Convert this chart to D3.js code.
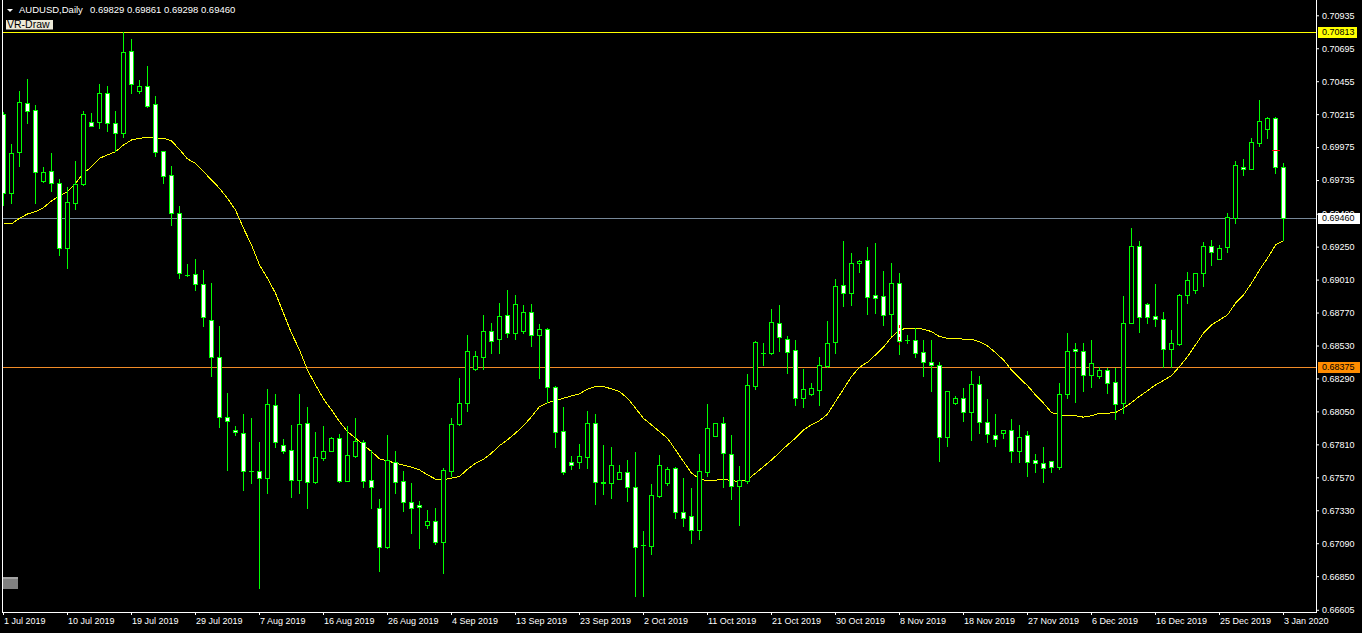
<!DOCTYPE html>
<html><head><meta charset="utf-8">
<script src="https://cdn.jsdelivr.net/npm/d3@7"></script>
<style>
html,body{margin:0;padding:0;background:#000;overflow:hidden}
svg{display:block}
text{font-family:"Liberation Sans",Arial,sans-serif}
</style>
</head><body>
<svg id="c" width="1362" height="633"></svg>
<script>
// ---------------- DATA ----------------
const symbolLabel = "AUDUSD,Daily";
const indicatorLabel = "VR-Draw";

const opens = [
0.70214,0.69639,0.69937,0.70294,0.70245,0.69731,0.69803,0.69712,0.69243,0.69570,
0.69706,0.70156,0.70156,0.70367,0.70148,0.70076,0.70675,0.70386,0.70420,0.70287,
0.69947,0.69772,0.69493,0.69047,0.69049,0.68976,0.68714,0.68445,0.68008,0.67913,
0.67892,0.67616,0.67615,0.67564,0.68095,0.67806,0.67768,0.67549,0.67964,0.67539,
0.67714,0.67765,0.67855,0.67546,0.67728,0.67826,0.67549,0.67346,0.67062,0.67685,
0.67542,0.67389,0.67370,0.67219,0.67251,0.67102,0.67619,0.67957,0.68110,0.68358,
0.68449,0.68636,0.68576,0.68753,0.68620,0.68639,0.68773,0.68605,0.68649,0.68226,
0.67906,0.67680,0.67678,0.67721,0.67964,0.67533,0.67525,0.67561,0.67608,0.67498,
0.67077,0.67073,0.67437,0.67532,0.67637,0.67316,0.67287,0.67183,0.67612,0.67874,
0.67964,0.67739,0.67510,0.67546,0.68238,0.68475,0.68474,0.68692,0.68576,0.68496,
0.68151,0.68178,0.68209,0.68384,0.68558,0.68969,0.68915,0.69131,0.69151,0.68896,
0.68889,0.68762,0.68984,0.68572,0.68569,0.68481,0.68408,0.68387,0.67863,0.68114,
0.68146,0.68045,0.68248,0.67972,0.67877,0.67892,0.67913,0.67761,0.67877,0.67695,
0.67673,0.67688,0.67648,0.68175,0.68503,0.68488,0.68318,0.68311,0.68350,0.68263,
0.68114,0.68697,0.69255,0.68831,0.68743,0.68722,0.68503,0.68542,0.68898,0.68935,
0.69056,0.69255,0.69158,0.69246,0.69457,0.69828,0.69814,0.70003,0.70105,0.70185,
0.69829];
const highs = [
0.70233,0.69998,0.70384,0.70469,0.70282,0.69832,0.69930,0.69741,0.69687,0.69874,
0.70238,0.70221,0.70434,0.70420,0.70238,0.70813,0.70762,0.70464,0.70566,0.70347,
0.69950,0.69838,0.69546,0.69124,0.69161,0.69080,0.68986,0.68673,0.68183,0.67945,
0.68030,0.68001,0.67826,0.68214,0.68175,0.67850,0.67952,0.68178,0.68085,0.67901,
0.67947,0.67863,0.67887,0.67945,0.68000,0.67843,0.67770,0.67413,0.67879,0.67763,
0.67617,0.67528,0.67399,0.67333,0.67350,0.67637,0.68001,0.68296,0.68607,0.68493,
0.68753,0.68697,0.68842,0.68935,0.68898,0.68826,0.68833,0.68687,0.68656,0.68236,
0.68083,0.67726,0.67814,0.68054,0.68032,0.67806,0.67792,0.67659,0.67697,0.67755,
0.67180,0.67523,0.67734,0.67648,0.67646,0.67566,0.67493,0.67741,0.68102,0.67964,
0.68010,0.67879,0.67653,0.68323,0.68566,0.68549,0.68797,0.68826,0.68601,0.68571,
0.68359,0.68256,0.68447,0.68709,0.69013,0.69292,0.69202,0.69153,0.69246,0.69275,
0.69073,0.69134,0.69056,0.68607,0.68656,0.68571,0.68571,0.68408,0.68197,0.68165,
0.68219,0.68345,0.68309,0.68141,0.68032,0.67913,0.67994,0.67952,0.67908,0.67741,
0.67790,0.67688,0.68258,0.68622,0.68547,0.68547,0.68571,0.68376,0.68365,0.68365,
0.68891,0.69388,0.69292,0.68838,0.68979,0.68777,0.68644,0.68906,0.69066,0.69056,
0.69286,0.69299,0.69262,0.69498,0.69876,0.69889,0.70044,0.70318,0.70192,0.70196,
0.69861];
const lows = [
0.69554,0.69566,0.69840,0.70148,0.69566,0.69723,0.69658,0.69190,0.69097,0.69525,
0.69699,0.70129,0.70112,0.70092,0.69949,0.70051,0.70367,0.70367,0.70265,0.69913,
0.69714,0.69408,0.69020,0.69037,0.68935,0.68675,0.68311,0.67940,0.67624,0.67879,
0.67474,0.67528,0.66763,0.67455,0.67790,0.67746,0.67430,0.67459,0.67350,0.67528,
0.67697,0.67763,0.67539,0.67544,0.67721,0.67503,0.67350,0.66884,0.67054,0.67459,
0.67321,0.67164,0.67054,0.67204,0.67086,0.66872,0.67583,0.67952,0.68056,0.68352,
0.68360,0.68478,0.68478,0.68595,0.68578,0.68624,0.68529,0.68296,0.68122,0.67794,
0.67593,0.67629,0.67641,0.67641,0.67377,0.67450,0.67421,0.67559,0.67399,0.66707,
0.66702,0.67013,0.67430,0.67515,0.67275,0.67217,0.67095,0.67124,0.67581,0.67874,
0.67503,0.67413,0.67224,0.67532,0.68214,0.68389,0.68469,0.68491,0.68333,0.68098,
0.68085,0.68170,0.68098,0.68372,0.68478,0.68818,0.68826,0.69068,0.68760,0.68769,
0.68680,0.68607,0.68469,0.68551,0.68445,0.68309,0.68200,0.67692,0.67799,0.68105,
0.67983,0.67843,0.67896,0.67830,0.67801,0.67859,0.67678,0.67678,0.67583,0.67612,
0.67539,0.67612,0.67634,0.68151,0.68122,0.68202,0.68231,0.68296,0.68183,0.67994,
0.68042,0.68692,0.68631,0.68697,0.68675,0.68376,0.68376,0.68534,0.68838,0.68911,
0.68966,0.69117,0.69158,0.69214,0.69425,0.69772,0.69814,0.69985,0.70044,0.69784,
0.69298];
const closes = [
0.69639,0.69930,0.70301,0.70238,0.69792,0.69796,0.69712,0.69243,0.69573,0.69706,
0.70214,0.70131,0.70367,0.70148,0.70076,0.70665,0.70432,0.70420,0.70277,0.69942,
0.69767,0.69493,0.69061,0.69043,0.68976,0.68736,0.68445,0.68008,0.67979,0.67899,
0.67619,0.67614,0.67564,0.68103,0.67830,0.67765,0.67549,0.67957,0.67535,0.67717,
0.67761,0.67855,0.67546,0.67731,0.67833,0.67546,0.67503,0.67062,0.67697,0.67539,
0.67389,0.67346,0.67353,0.67253,0.67102,0.67622,0.67957,0.68110,0.68491,0.68454,
0.68636,0.68566,0.68746,0.68620,0.68833,0.68773,0.68605,0.68649,0.68226,0.67903,
0.67612,0.67659,0.67726,0.67964,0.67535,0.67531,0.67659,0.67608,0.67498,0.67062,
0.67075,0.67440,0.67659,0.67629,0.67316,0.67270,0.67183,0.67615,0.67928,0.67964,
0.67746,0.67510,0.67552,0.68241,0.68554,0.68473,0.68700,0.68595,0.68486,0.68151,
0.68212,0.68219,0.68387,0.68547,0.68962,0.68915,0.69129,0.69146,0.68882,0.68879,
0.68755,0.68984,0.68566,0.68570,0.68478,0.68408,0.68387,0.67863,0.68197,0.68149,
0.68045,0.68248,0.67972,0.67884,0.67848,0.67913,0.67761,0.67863,0.67680,0.67673,
0.67637,0.67648,0.68175,0.68488,0.68488,0.68318,0.68401,0.68352,0.68256,0.68103,
0.68692,0.69255,0.68740,0.68740,0.68722,0.68503,0.68547,0.68898,0.69005,0.69056,
0.69255,0.69209,0.69238,0.69464,0.69845,0.69814,0.70010,0.70165,0.70185,0.69829,
0.69460];
const maValues = [
0.69415,0.69415,0.69457,0.69488,0.69505,0.69534,0.69583,0.69619,0.69650,0.69712,
0.69784,0.69832,0.69894,0.69918,0.69942,0.69990,0.70027,0.70039,0.70047,0.70039,
0.70039,0.70020,0.69958,0.69889,0.69857,0.69796,0.69736,0.69675,0.69602,0.69517,
0.69384,0.69262,0.69117,0.69020,0.68911,0.68765,0.68620,0.68498,0.68352,0.68243,
0.68141,0.68061,0.67976,0.67903,0.67855,0.67806,0.67758,0.67705,0.67690,0.67673,
0.67659,0.67644,0.67624,0.67588,0.67557,0.67552,0.67564,0.67576,0.67629,0.67673,
0.67702,0.67746,0.67801,0.67843,0.67892,0.67945,0.68012,0.68085,0.68114,0.68129,
0.68146,0.68163,0.68178,0.68212,0.68231,0.68231,0.68214,0.68194,0.68146,0.68074,
0.67999,0.67952,0.67903,0.67855,0.67770,0.67685,0.67600,0.67559,0.67544,0.67549,
0.67557,0.67546,0.67539,0.67552,0.67600,0.67648,0.67697,0.67750,0.67806,0.67855,
0.67916,0.67952,0.67983,0.68030,0.68122,0.68212,0.68304,0.68372,0.68408,0.68462,
0.68518,0.68591,0.68644,0.68656,0.68656,0.68649,0.68631,0.68595,0.68583,0.68583,
0.68576,0.68576,0.68558,0.68527,0.68478,0.68425,0.68352,0.68292,0.68238,0.68170,
0.68110,0.68042,0.68025,0.68018,0.68018,0.68008,0.68018,0.68037,0.68037,0.68042,
0.68074,0.68114,0.68160,0.68200,0.68243,0.68275,0.68311,0.68376,0.68449,0.68534,
0.68620,0.68680,0.68716,0.68753,0.68838,0.68898,0.68984,0.69080,0.69166,0.69262,
0.69294];

const priceTickLabels = ["0.70935","0.70695","0.70455","0.70215","0.69975","0.69735","0.69490",
  "0.69250","0.69010","0.68770","0.68530","0.68290","0.68050","0.67810","0.67570","0.67330",
  "0.67090","0.66850","0.66605"];
const dateTickLabels = ["1 Jul 2019","10 Jul 2019","19 Jul 2019","29 Jul 2019","7 Aug 2019",
  "16 Aug 2019","26 Aug 2019","4 Sep 2019","13 Sep 2019","23 Sep 2019","2 Oct 2019","11 Oct 2019",
  "21 Oct 2019","30 Oct 2019","8 Nov 2019","18 Nov 2019","27 Nov 2019","6 Dec 2019","16 Dec 2019",
  "25 Dec 2019","3 Jan 2020"];
const levelPrices = [0.70813, 0.69460, 0.68375];   // high line, bid line, user level
const levelLabels = ["0.70813", "0.69460", "0.68375"];
const redDashBar = 112, redDashFrom = 0.68534, redDashTo = 0.68680;
const redTickBar = 159, redTickPrice = 0.69952;

// dates: daily bars incl. Sunday sessions (no Saturdays)
const dates = d3.timeDay.range(new Date(2019,6,1), new Date(2020,0,4)).filter(d => d.getDay() !== 6);
const fmtDate = d3.timeFormat("%-d %b %Y");

// ---------------- DRAW ----------------
const W = 1362, H = 633;
const plotL = 2, plotR = 1316, plotB = 612;
const svg = d3.select("#c");
svg.append("rect").attr("width", W).attr("height", H).attr("fill", "#000");

const n = closes.length;
const x = d3.scalePoint().domain(d3.range(n)).range([3, 3 + 8 * (n - 1)]);
const y = d3.scaleLinear().domain([0.66605, 0.70935]).range([609.8, 15.3]);

const LIME = "#00ff00";

svg.append("defs").append("clipPath").attr("id", "plotclip")
  .append("rect").attr("x", plotL + 1).attr("y", 0).attr("width", plotR - plotL - 1).attr("height", plotB);

const plot = svg.append("g").attr("clip-path", "url(#plotclip)");

// level lines
const levelColors = ["#ffff00", "#778899", "#f28c28"];
levelPrices.forEach((p, k) => {
  const yy = Math.round(y(p)) + 0.5;
  plot.append("line").attr("x1", plotL).attr("x2", plotR).attr("y1", yy).attr("y2", yy)
    .attr("stroke", levelColors[k]).attr("stroke-width", 1).attr("shape-rendering", "crispEdges");
});

// MA line
const maLine = d3.line().x((d, i) => x(i) + 0.5).y(d => y(d));
plot.append("path").datum(maValues).attr("d", maLine).attr("fill", "none")
  .attr("stroke", "#ffff00").attr("stroke-width", 1).attr("shape-rendering", "crispEdges");

// candles
const cg = plot.append("g").attr("shape-rendering", "crispEdges");
d3.range(n).forEach(i => {
  const cx = x(i);
  const o = opens[i], c = closes[i], h = highs[i], l = lows[i];
  const yH = Math.round(y(h)), yL = Math.round(y(l));
  cg.append("line").attr("x1", cx + 0.5).attr("x2", cx + 0.5)
    .attr("y1", yH).attr("y2", yL + 1).attr("stroke", LIME);
  const top = Math.round(y(Math.max(o, c))), bot = Math.round(y(Math.min(o, c)));
  if (bot - top < 1) {
    cg.append("line").attr("x1", cx - 2).attr("x2", cx + 3)
      .attr("y1", top + 0.5).attr("y2", top + 0.5).attr("stroke", LIME);
  } else {
    cg.append("rect").attr("x", cx - 1.5).attr("y", top + 0.5)
      .attr("width", 4).attr("height", bot - top)
      .attr("fill", c < o ? "#ffffff" : "#000000").attr("stroke", LIME);
  }
});

// red marks
const rx = x(redDashBar) + 0.5;
plot.append("line").attr("x1", rx).attr("x2", rx)
  .attr("y1", Math.round(y(redDashTo))).attr("y2", Math.round(y(redDashFrom)))
  .attr("stroke", "#ff0000").attr("stroke-dasharray", "3,3").attr("shape-rendering", "crispEdges");
const ty = Math.round(y(redTickPrice)) + 0.5;
plot.append("line").attr("x1", x(redTickBar) - 3).attr("x2", x(redTickBar) + 5)
  .attr("y1", ty).attr("y2", ty).attr("stroke", "#ff0000").attr("shape-rendering", "crispEdges");

// frame
svg.append("path")
  .attr("d", `M${plotL + 0.5},0 V${plotB + 0.5} H${plotR + 0.5} V0`)
  .attr("fill", "none").attr("stroke", "#ffffff").attr("shape-rendering", "crispEdges");

// right price axis
const tickVals = priceTickLabels.map(Number);
const yAxis = d3.axisRight(y).tickValues(tickVals)
  .tickFormat((d, i) => priceTickLabels[i]).tickSize(3).tickPadding(3);
const ya = svg.append("g").attr("transform", `translate(${plotR},0)`).call(yAxis);
ya.select(".domain").remove();
ya.selectAll("line").attr("stroke", "#ffffff");
ya.selectAll("text").attr("fill", "#ffffff").attr("font-size", 9)
  .attr("font-family", "Liberation Sans, Arial, sans-serif");

// bottom date axis
const tickIdx = dateTickLabels.map(lbl => dates.findIndex(d => fmtDate(d) === lbl));
const xAxis = d3.axisBottom(x).tickValues(tickIdx).tickFormat(i => fmtDate(dates[i])).tickSize(3).tickPadding(3);
const xa = svg.append("g").attr("transform", `translate(0,${plotB})`).call(xAxis);
xa.select(".domain").remove();
xa.selectAll("line").attr("stroke", "#ffffff");
xa.selectAll("text").attr("fill", "#ffffff").attr("font-size", 9).attr("text-anchor", "start")
  .attr("x", 0.5).attr("font-family", "Liberation Sans, Arial, sans-serif");

// level price boxes on the axis
const boxFill = ["#ffff00", "#ffffff", "#ff8c00"];
const boxW = [39, 42, 42];
levelPrices.forEach((p, k) => {
  const cy = Math.round(y(p));
  svg.append("rect").attr("x", plotR + 2).attr("y", cy - 5).attr("width", boxW[k]).attr("height", 11)
    .attr("fill", boxFill[k]).attr("shape-rendering", "crispEdges");
  svg.append("text").attr("x", plotR + 6).attr("y", cy + 0.5).attr("dy", "0.32em")
    .attr("font-size", 9).attr("fill", "#000").text(levelLabels[k]);
});

// header
svg.append("path").attr("d", "M7,9 L13,9 L10,12 Z").attr("fill", "#ffffff");
const last = n - 1;
const f5 = d3.format(".5f");
svg.append("text").attr("x", 19).attr("y", 13.3).attr("font-size", 9.5).attr("fill", "#ffffff")
  .text(symbolLabel);
svg.append("text").attr("x", 90).attr("y", 13.3).attr("font-size", 9.5).attr("fill", "#ffffff")
  .attr("xml:space", "preserve")
  .text([opens[last], highs[last], lows[last], closes[last]].map(f5).join(" "));

// VR-Draw label
svg.append("rect").attr("x", 6).attr("y", 20).attr("width", 47).attr("height", 9.5).attr("fill", "#ece9d8");
svg.append("text").attr("x", 7).attr("y", 28.3).attr("font-size", 10.5).attr("fill", "#000").text(indicatorLabel);

// grey button bottom-left
svg.append("rect").attr("x", 3).attr("y", 577).attr("width", 15).attr("height", 12).attr("fill", "#808080");
svg.append("rect").attr("x", 3).attr("y", 577).attr("width", 15).attr("height", 2).attr("fill", "#a4a4a4");
</script>
</body></html>
